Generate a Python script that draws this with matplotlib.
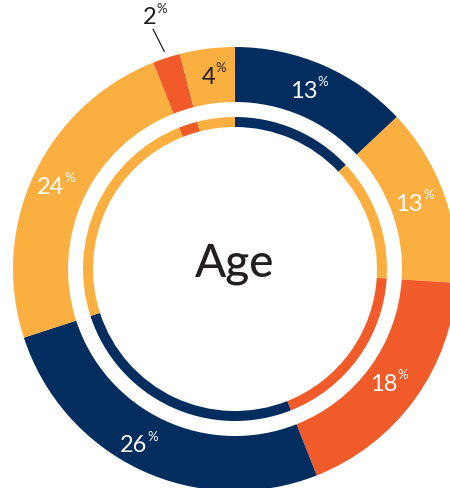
import numpy as np
import matplotlib
matplotlib.use("Agg")
import matplotlib.pyplot as plt

# age groups, clockwise from 12 o'clock
outer_vals = [13, 13, 18, 26, 24, 2, 4]
inner_vals = [13, 13, 18, 26, 24, 2, 4]
labels = ["13", "13", "18", "26", "24", "2", "4"]

navy = "#022d5e"
yellow = "#fbaf41"
orange = "#f15a29"
colors = [navy, yellow, orange, navy, yellow, orange, yellow]
txt_colors = ["white", "white", "white", "white", "white", "#231f20", "#231f20"]

plt.rcParams['font.family'] = ['Lato', 'DejaVu Sans']

fig = plt.figure(figsize=(4.5, 4.89), dpi=100)
ax = fig.add_axes([0, 0, 1, 1])

R = 222
W = 55
ax.pie(outer_vals, radius=R, startangle=90, counterclock=False, colors=colors,
       wedgeprops=dict(width=W, linewidth=0))
ax.pie(inner_vals, radius=152, startangle=90, counterclock=False, colors=colors,
       wedgeprops=dict(width=10, linewidth=0))

# labels at middle of outer ring
cum = np.cumsum(outer_vals)
mid = (cum - np.array(outer_vals) / 2) / 100 * 2 * np.pi
rl = R - W / 2
for i, lab in enumerate(labels):
    x = rl * np.sin(mid[i])
    y = rl * np.cos(mid[i])
    if lab == "2":
        # small slice: label outside with leader line
        a = mid[i]
        ax.plot([229 * np.sin(a), 252 * np.sin(a) - 4],
                [229 * np.cos(a), 252 * np.cos(a)],
                color="#231f20", lw=0.9)
        x, y = -84, 252
    elif lab == "26":
        x -= 10
    ax.text(x + 5, y, lab, ha="right", va="center", fontsize=17,
            color=txt_colors[i])
    ax.text(x + 5, y + 3, "%", ha="left", va="bottom", fontsize=9.5,
            color=txt_colors[i])

ax.text(0, 6, "Age", ha="center", va="center", fontsize=33,
        fontweight="medium", color="#231f20")

ax.set_xlim(-235, 215)
ax.set_ylim(-219, 270)
ax.set_aspect("equal")
ax.axis("off")

fig.savefig("out.png", dpi=100)
